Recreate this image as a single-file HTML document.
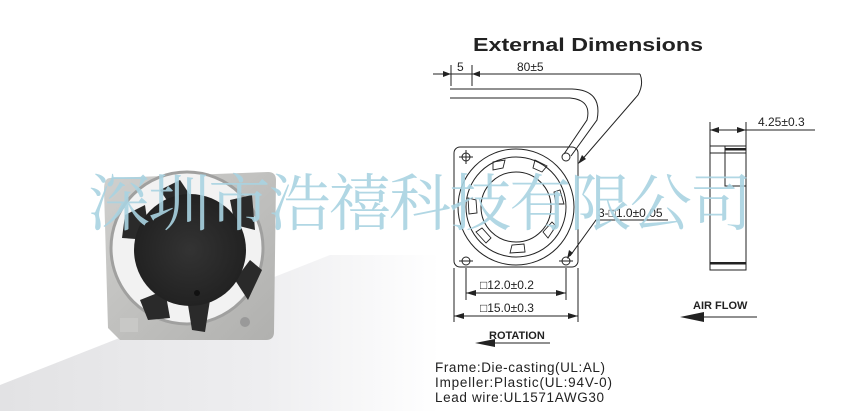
<!DOCTYPE html>
<html><head><meta charset="utf-8"><style>
html,body{margin:0;padding:0;background:#fff;width:842px;height:411px;overflow:hidden}
svg{display:block}
text{font-family:"Liberation Sans",sans-serif}
</style></head><body>
<svg width="842" height="411" viewBox="0 0 842 411" xmlns="http://www.w3.org/2000/svg">
<defs>
<linearGradient id="fl" x1="0" y1="0" x2="1" y2="0"><stop offset="0" stop-color="#e2e2e4"/><stop offset="0.6" stop-color="#eeeef0"/><stop offset="1" stop-color="#fff"/></linearGradient>
<linearGradient id="fr" x1="0" y1="0" x2="1" y2="1"><stop offset="0" stop-color="#d0d0ce"/><stop offset="1" stop-color="#b0b0ae"/></linearGradient>
<radialGradient id="hub" cx="0.5" cy="0.5" r="0.5"><stop offset="0" stop-color="#333"/><stop offset="1" stop-color="#222"/></radialGradient>
</defs>
<!-- photo background -->
<polygon points="0,385 330,255 440,255 440,411 0,411" fill="url(#fl)"/>
<!-- fan photo -->
<path d="M110,178 L268,172 Q276,172 276,180 L274,332 Q274,340 266,340 L120,340 L108,328 L104,190 Q104,178 110,178Z" fill="url(#fr)"/>
<circle cx="187" cy="248" r="76" fill="#f2f2f2"/>
<circle cx="187" cy="248" r="76" fill="none" stroke="#a0a09f" stroke-width="3"/>
<g fill="#2a2a2a">
<polygon points="125,215 145,205 150,240 122,238"/>
<polygon points="140,300 165,290 170,318 148,320"/>
<polygon points="188,305 210,300 205,332 192,330"/>
<polygon points="235,280 250,260 262,270 248,300"/>
<polygon points="230,200 252,195 255,230 235,225"/>
<polygon points="160,190 180,180 190,195 170,205"/>
</g>
<circle cx="190" cy="250" r="56" fill="url(#hub)"/>
<circle cx="197" cy="293" r="3" fill="#111"/>
<rect x="120" y="318" width="18" height="14" fill="#c8c8c6"/>
<circle cx="245" cy="322" r="5" fill="#999"/>
<!-- title -->
<text x="473" y="51" font-size="18" font-weight="bold" fill="#222" textLength="230" lengthAdjust="spacingAndGlyphs">External Dimensions</text>
<g stroke="#222" stroke-width="1" fill="none">
<line x1="433" y1="74" x2="640" y2="74"/>
<line x1="451" y1="65" x2="451" y2="86"/>
<line x1="472" y1="65" x2="472" y2="86"/>
<path d="M450,89 L572,89 Q603,90 597,120 L571,156"/>
<path d="M450,98 L570,98 Q592,100 587,120 L564,154"/>
<path d="M640,74 Q644,84 638,95 L580,162"/>
<rect x="454" y="147" width="124" height="120" rx="6"/>
<circle cx="516" cy="207" r="58"/>
<circle cx="516" cy="207" r="50"/>
<circle cx="516" cy="207" r="35"/>
<circle cx="466" cy="157" r="4"/><circle cx="566" cy="157" r="4"/>
<circle cx="466" cy="261" r="4"/><circle cx="566" cy="261" r="4"/>
<line x1="459" y1="157" x2="473" y2="157"/><line x1="466" y1="150" x2="466" y2="164"/>
<line x1="559" y1="261" x2="573" y2="261"/><line x1="459" y1="261" x2="473" y2="261"/>
<g stroke-width="0.9">
<path d="M493,162 L505,160 L503,168 L493,170Z"/>
<path d="M535,160 L547,166 L542,172 L533,168Z"/>
<path d="M560,190 L564,204 L556,204 L554,192Z"/>
<path d="M556,226 L548,238 L543,232 L552,222Z"/>
<path d="M525,252 L510,253 L512,245 L524,244Z"/>
<path d="M486,243 L476,232 L482,228 L491,238Z"/>
<path d="M469,214 L468,198 L476,200 L477,213Z"/>
</g>
<line x1="466" y1="268" x2="466" y2="300"/><line x1="566" y1="268" x2="566" y2="300"/>
<line x1="466" y1="293" x2="566" y2="293"/>
<line x1="454" y1="268" x2="454" y2="322"/><line x1="578" y1="268" x2="578" y2="322"/>
<line x1="454" y1="316" x2="578" y2="316"/>
<path d="M668,220 L596,220 L570,256"/>
<rect x="710" y="146" width="36" height="124"/>
<line x1="710" y1="122" x2="710" y2="146"/><line x1="746" y1="122" x2="746" y2="146"/>
<line x1="710" y1="130" x2="815" y2="130"/>
<line x1="710" y1="153" x2="746" y2="153"/>
<rect x="725" y="146" width="21" height="40"/>
<line x1="710" y1="263" x2="746" y2="263"/>
<line x1="490" y1="343" x2="550" y2="343"/>
<line x1="700" y1="317" x2="757" y2="317"/>
</g>
<g fill="#222">
<polygon points="451,74 443,71 443,77"/><polygon points="472,74 480,71 480,77"/>
<polygon points="578,164 582,155 586,159"/>
<polygon points="567,259 569,250 573,253"/>
<polygon points="466,293 476,290 476,296"/><polygon points="566,293 556,290 556,296"/>
<polygon points="454,316 464,313 464,319"/><polygon points="578,316 568,313 568,319"/>
<polygon points="710,130 719,127 719,133"/><polygon points="746,130 737,127 737,133"/>
<rect x="725" y="148" width="21" height="2.5"/><rect x="710" y="262" width="36" height="2.5"/>
<polygon points="475,343 495,339 495,347"/>
<polygon points="680,317 704,312 704,322"/>
</g>
<g font-size="12" fill="#222">
<text x="457" y="71">5</text>
<text x="517" y="71">80±5</text>
<text x="758" y="126">4.25±0.3</text>
<text x="598" y="217">3-□1.0±0.05</text>
<text x="480" y="289">□12.0±0.2</text>
<text x="480" y="312">□15.0±0.3</text>
<text x="489" y="339" font-size="11" font-weight="bold">ROTATION</text>
<text x="693" y="309" font-size="11" font-weight="bold">AIR  FLOW</text>
<text x="435" y="372" font-size="13.5" textLength="170">Frame:Die-casting(UL:AL)</text>
<text x="435" y="387" font-size="13.5" textLength="177">Impeller:Plastic(UL:94V-0)</text>
<text x="435" y="402" font-size="13.5" textLength="169">Lead wire:UL1571AWG30</text>
</g>
<text x="88" y="225" font-size="62" fill="#a8d3e1" fill-opacity="0.9" textLength="664" style='font-family:"Liberation Serif","Noto Serif CJK SC",serif'>深圳市浩禧科技有限公司</text>
</svg>
</body></html>
